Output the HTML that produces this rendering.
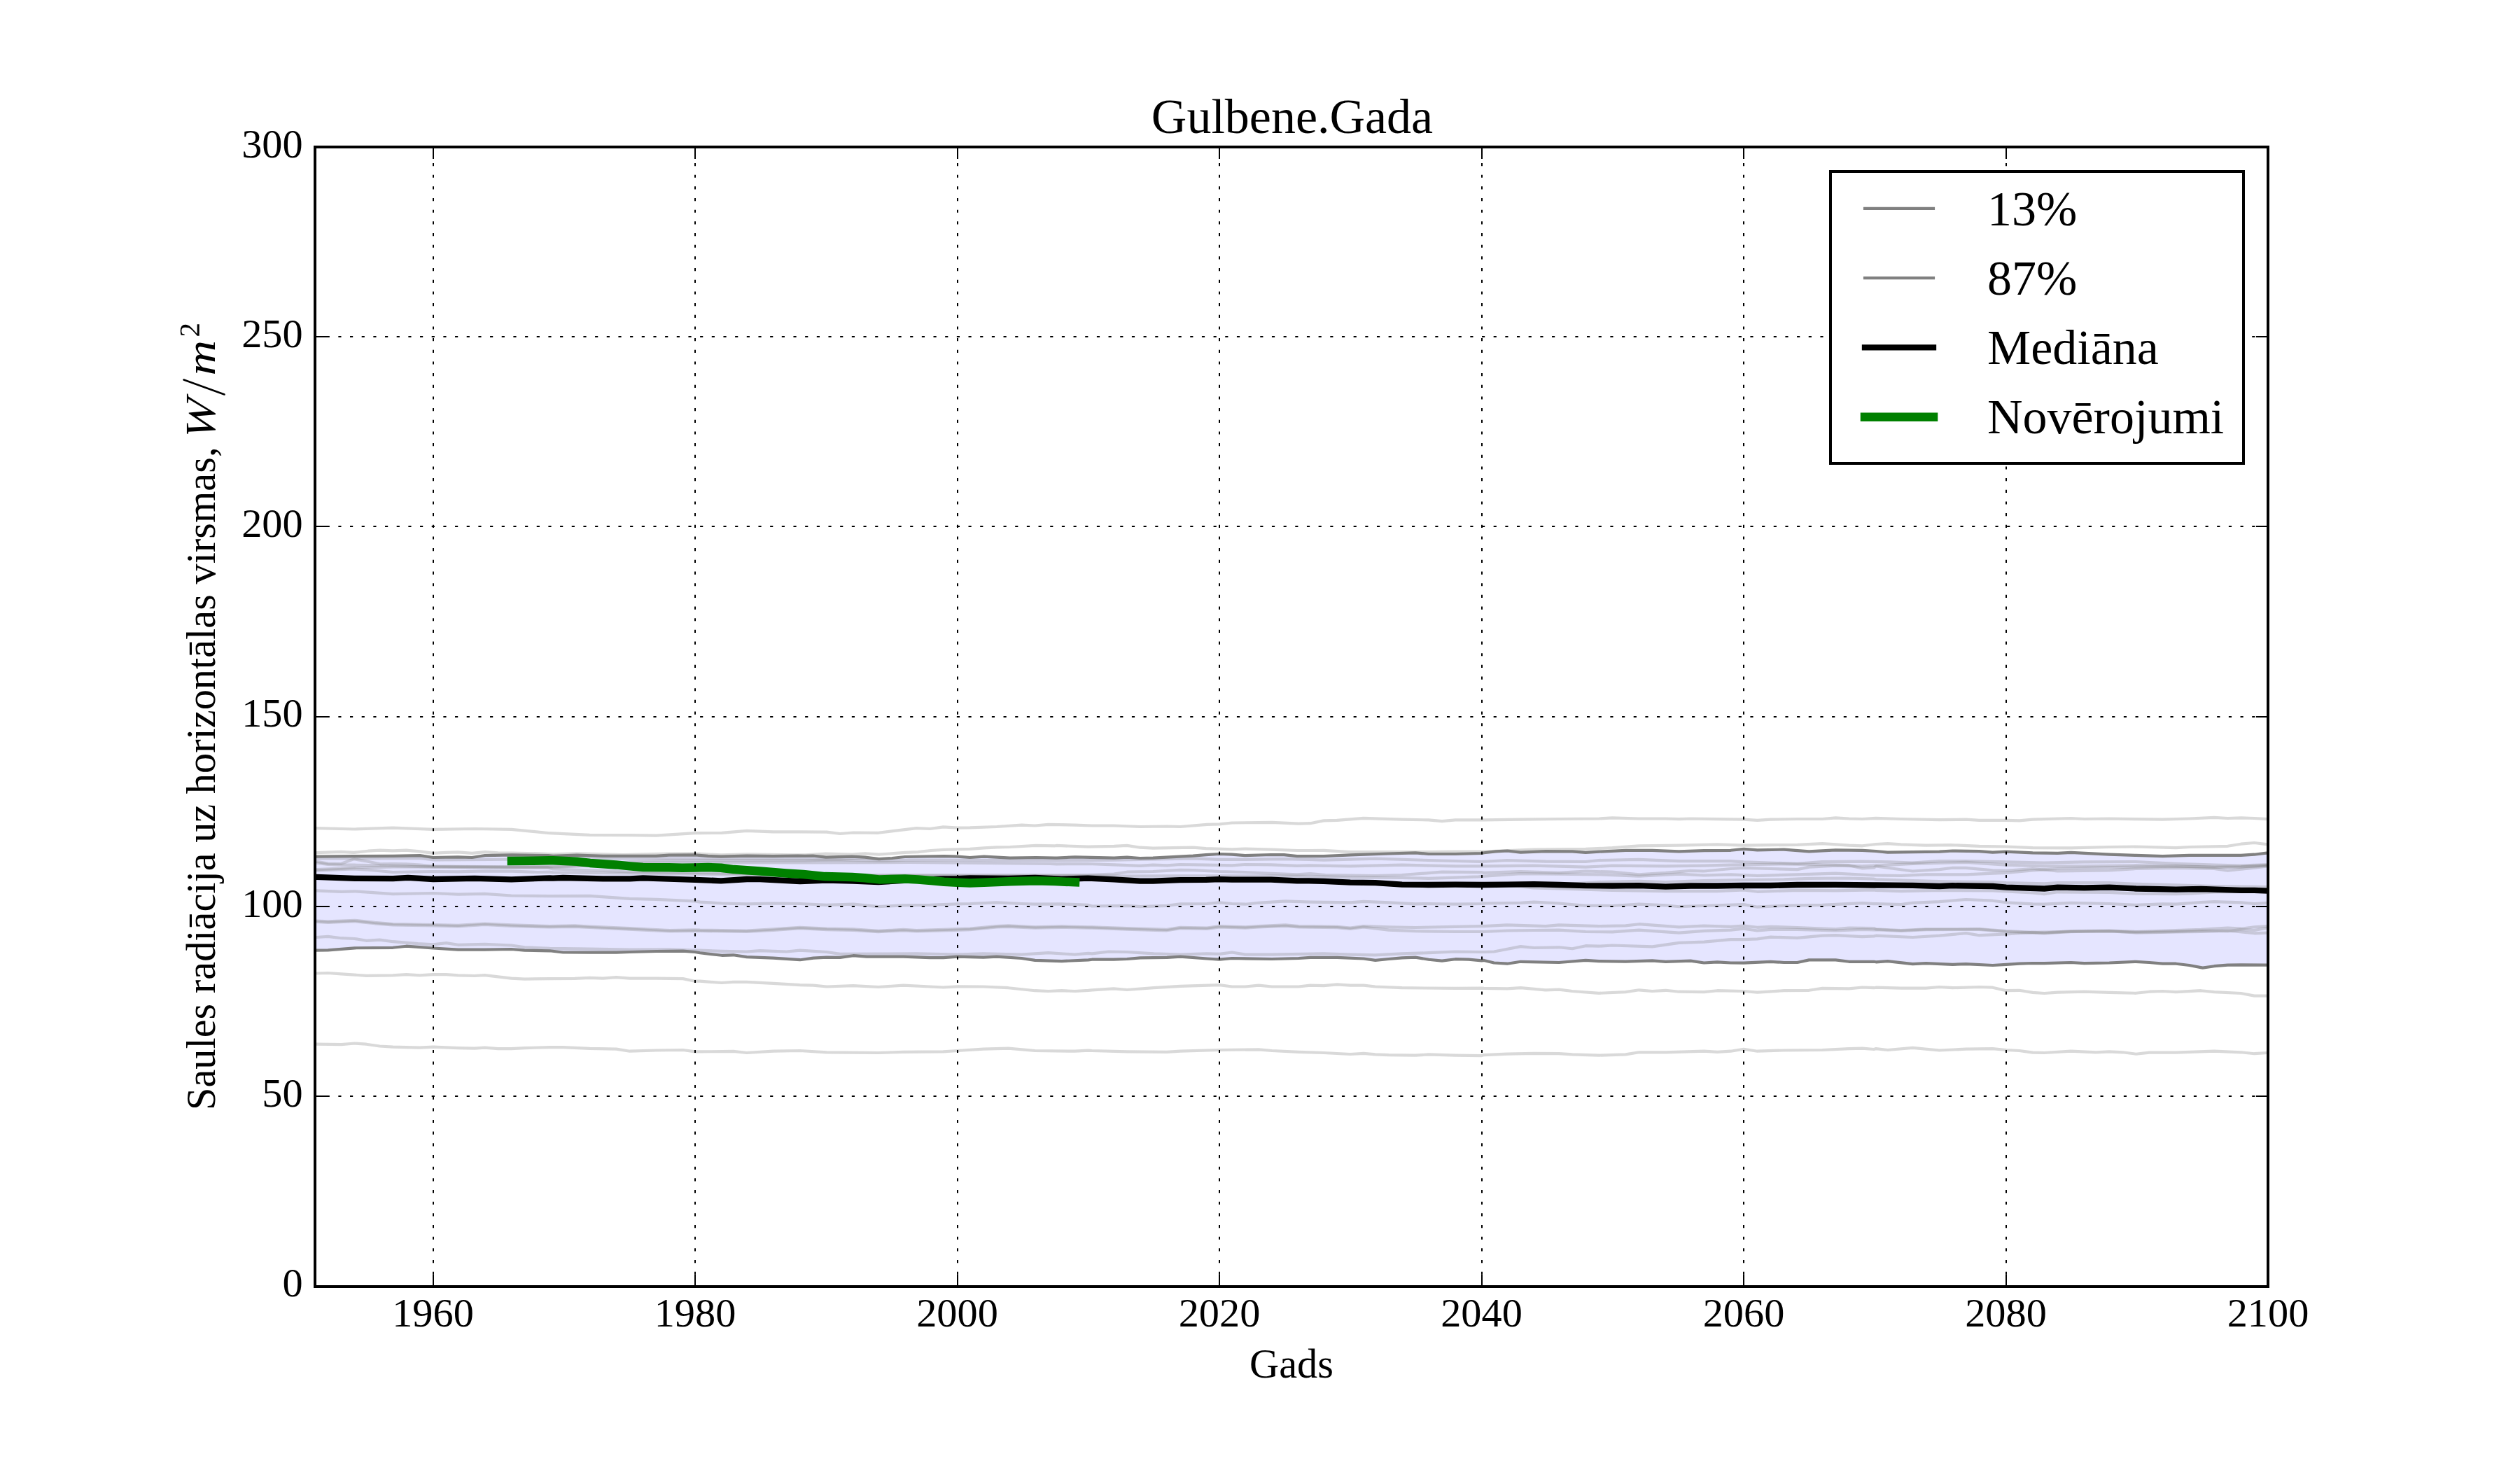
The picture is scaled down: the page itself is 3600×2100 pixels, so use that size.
<!DOCTYPE html>
<html><head><meta charset="utf-8"><title>Gulbene.Gada</title>
<style>
html,body{margin:0;padding:0;background:#fff;}
body{width:3600px;height:2100px;overflow:hidden;font-family:"Liberation Serif",serif;}
svg{display:block;position:absolute;left:0;top:0;}
text{font-family:"Liberation Serif",serif;fill:#000;}
.tk{font-size:58.33px;}
.lg{font-size:70px;}
.grid{stroke:#000;stroke-width:2;stroke-dasharray:4.17 12.5;fill:none;}
.tick{stroke:#000;stroke-width:2;fill:none;}
.lt{stroke:#808080;stroke-opacity:0.3;stroke-width:4.17;fill:none;stroke-linejoin:round;}
.dk{stroke:#808080;stroke-width:4.17;fill:none;stroke-linejoin:round;}
.md{stroke:#000;stroke-width:8.33;fill:none;stroke-linejoin:round;}
.ob{stroke:#008000;stroke-width:12.5;fill:none;stroke-linejoin:round;stroke-linecap:square;}
</style></head><body>
<svg width="3600" height="2100" viewBox="0 0 3600 2100">
<rect x="0" y="0" width="3600" height="2100" fill="#fff"/>
<defs><clipPath id="axclip"><rect x="450" y="210" width="2790" height="1627.5"/></clipPath></defs>
<g clip-path="url(#axclip)">
<polygon points="450.0,1223.6 452.1,1223.6 505.7,1223.1 561.4,1222.9 600.0,1222.1 618.9,1225.0 654.3,1224.3 674.3,1225.0 692.9,1222.1 731.4,1221.4 782.9,1222.1 790.0,1222.9 824.3,1221.7 861.4,1222.9 937.1,1222.9 955.7,1221.7 992.9,1221.4 1011.4,1222.9 1030.0,1223.6 1067.1,1222.6 1104.3,1223.1 1140.0,1222.6 1150.0,1222.9 1161.4,1222.6 1180.0,1224.6 1217.1,1223.6 1235.7,1224.6 1255.7,1227.1 1274.3,1226.0 1292.9,1224.0 1348.6,1223.1 1367.9,1223.6 1385.7,1225.0 1405.7,1223.6 1442.9,1225.7 1480.0,1225.0 1507.1,1225.7 1510.0,1225.7 1535.7,1224.3 1591.4,1225.7 1610.0,1224.6 1628.6,1226.0 1647.1,1225.7 1704.3,1222.6 1722.9,1221.1 1741.9,1220.0 1760.0,1220.7 1778.6,1222.1 1815.7,1221.0 1834.3,1221.1 1852.9,1223.1 1871.9,1223.1 1891.0,1223.1 1929.0,1221.4 1983.8,1219.5 2021.9,1218.3 2041.0,1220.0 2079.0,1220.0 2116.7,1219.0 2120.0,1218.3 2136.7,1216.4 2153.3,1215.5 2172.4,1217.6 2208.1,1216.2 2246.2,1216.4 2265.2,1217.9 2284.3,1216.7 2322.4,1214.8 2360.5,1214.8 2398.6,1216.4 2434.3,1215.2 2472.4,1214.8 2491.0,1212.9 2510.5,1214.3 2548.6,1213.6 2584.3,1216.4 2622.4,1214.3 2660.5,1214.8 2680.0,1216.0 2696.7,1217.6 2732.4,1217.1 2770.5,1216.7 2789.5,1215.5 2827.6,1216.2 2846.7,1217.6 2866.0,1216.7 2903.8,1218.3 2939.5,1218.8 2958.6,1217.9 3013.3,1220.7 3051.4,1221.9 3089.5,1223.1 3127.6,1221.9 3163.3,1221.9 3201.4,1221.9 3220.5,1220.7 3240.0,1218.3 3240.0,1378.6 3201.4,1378.3 3182.4,1378.6 3163.3,1380.2 3146.7,1382.6 3127.6,1379.0 3108.6,1376.7 3089.5,1376.7 3070.5,1375.0 3051.4,1373.8 3013.3,1375.5 2977.6,1376.2 2958.6,1375.0 2920.5,1376.2 2903.8,1376.0 2884.8,1376.7 2866.0,1377.9 2846.7,1379.0 2808.6,1377.1 2789.5,1377.9 2751.4,1376.2 2732.4,1377.1 2696.7,1373.1 2680.0,1374.3 2677.1,1373.8 2641.4,1373.8 2622.4,1371.4 2584.3,1371.4 2567.6,1375.0 2548.6,1375.0 2529.5,1373.8 2491.0,1375.7 2472.4,1375.5 2453.3,1374.3 2434.3,1375.5 2415.2,1372.6 2379.5,1373.8 2360.5,1372.4 2322.4,1373.6 2284.3,1373.1 2265.2,1371.9 2227.1,1375.0 2172.4,1373.8 2153.3,1376.7 2134.3,1375.5 2120.0,1371.9 2116.7,1372.4 2098.1,1370.7 2079.0,1370.2 2060.0,1372.6 2041.0,1370.7 2021.9,1367.6 2002.9,1368.3 1983.8,1370.0 1964.8,1371.9 1948.1,1369.5 1910.0,1367.9 1871.9,1367.9 1855.2,1369.0 1817.1,1370.0 1760.0,1369.0 1742.1,1370.7 1724.3,1369.5 1686.2,1366.7 1667.1,1367.9 1629.0,1368.3 1610.0,1370.0 1591.0,1370.7 1560.0,1370.7 1554.8,1371.4 1516.7,1373.1 1478.6,1371.9 1459.5,1369.0 1423.8,1366.7 1404.8,1367.6 1367.9,1366.7 1347.6,1368.1 1328.6,1368.1 1290.5,1366.7 1238.1,1366.7 1219.0,1365.2 1200.0,1367.9 1181.0,1367.6 1161.9,1368.6 1142.9,1371.2 1104.8,1368.6 1066.7,1367.1 1047.6,1364.3 1031.0,1364.8 1000.0,1361.2 992.9,1360.0 975.7,1358.6 937.6,1359.0 899.5,1360.0 880.5,1360.7 842.4,1360.7 804.3,1360.5 785.2,1358.3 749.5,1357.6 730.5,1356.0 692.4,1356.7 654.3,1356.7 619.0,1354.5 580.5,1351.7 561.4,1353.8 506.7,1354.3 468.6,1357.4 451.9,1357.6 450.0,1357.6" fill="#0000ff" fill-opacity="0.1" stroke="none"/>
<polyline class="lt" points="450.0,1183.1 451.9,1183.1 506.7,1184.5 561.4,1182.6 619.0,1184.8 678.1,1184.0 730.5,1184.8 785.2,1190.2 842.4,1192.9 899.5,1193.1 937.6,1193.6 992.9,1190.2 1000.0,1190.2 1031.0,1189.8 1066.7,1186.9 1104.8,1188.3 1142.9,1188.3 1181.0,1188.6 1200.0,1191.0 1219.0,1189.5 1254.8,1189.8 1273.8,1187.4 1309.5,1183.1 1328.6,1184.0 1347.6,1181.4 1367.9,1182.6 1385.7,1182.4 1423.8,1181.0 1459.5,1178.6 1478.6,1179.5 1497.6,1177.9 1535.7,1178.6 1560.0,1179.5 1591.0,1179.5 1629.0,1181.0 1667.1,1180.5 1686.2,1181.0 1724.3,1177.9 1742.1,1177.4 1760.0,1175.5 1817.1,1174.8 1855.2,1176.7 1871.9,1176.2 1891.0,1172.4 1910.0,1171.9 1948.1,1168.8 2002.9,1170.7 2041.0,1171.4 2060.0,1173.1 2079.0,1171.4 2116.7,1171.4 2120.0,1171.4 2172.4,1170.7 2227.1,1170.0 2284.3,1169.5 2303.3,1168.3 2341.4,1169.5 2379.5,1169.5 2398.6,1170.2 2415.2,1169.5 2453.3,1170.2 2491.0,1170.7 2510.5,1171.9 2529.5,1170.7 2567.6,1170.0 2603.3,1170.0 2622.4,1168.3 2641.4,1169.5 2660.5,1170.0 2680.0,1168.8 2715.7,1170.0 2770.5,1171.2 2808.6,1170.7 2827.6,1171.9 2866.0,1171.9 2884.8,1172.4 2903.8,1170.7 2958.6,1169.0 2977.6,1170.0 3013.3,1169.5 3051.4,1170.2 3089.5,1170.7 3127.6,1169.5 3163.3,1167.9 3182.4,1169.0 3201.4,1168.3 3220.5,1169.0 3240.0,1170.2"/>
<polyline class="lt" points="450.0,1218.1 452.1,1218.1 487.1,1216.9 505.7,1217.9 525.7,1215.7 542.9,1214.7 561.4,1215.4 580.0,1214.7 600.0,1216.4 618.9,1218.9 637.1,1217.9 654.3,1217.4 674.3,1218.9 692.9,1217.1 711.4,1218.3 731.4,1218.6 768.6,1219.3 790.0,1220.4 824.3,1219.3 890.0,1221.1 955.7,1219.7 992.9,1219.3 1030.0,1221.4 1067.1,1220.4 1132.9,1221.4 1150.0,1221.4 1180.0,1219.7 1217.1,1220.7 1235.7,1219.3 1255.7,1220.7 1292.9,1217.9 1311.4,1217.1 1330.0,1215.0 1348.6,1213.9 1367.9,1213.3 1385.7,1212.9 1405.7,1211.4 1424.3,1210.4 1442.9,1210.0 1480.0,1207.9 1507.1,1208.3 1510.0,1207.9 1554.3,1209.7 1591.4,1208.9 1610.0,1207.9 1628.6,1210.7 1647.1,1211.7 1704.3,1210.7 1722.9,1212.1 1760.0,1213.3 1778.6,1212.6 1815.7,1213.6 1852.9,1215.0 1870.0,1215.0 1891.0,1214.8 1929.0,1217.1 1964.8,1217.1 2002.9,1217.1 2041.0,1217.1 2079.0,1216.7 2116.7,1216.7 2120.0,1216.7 2191.4,1213.6 2265.2,1212.9 2303.3,1211.2 2341.4,1208.3 2398.6,1207.6 2453.3,1206.4 2491.0,1207.6 2529.5,1207.1 2567.6,1206.9 2603.3,1205.2 2641.4,1207.6 2660.5,1208.3 2680.0,1206.0 2696.7,1205.2 2715.7,1206.4 2751.4,1207.6 2787.1,1207.1 2827.6,1208.8 2866.0,1209.5 2903.8,1211.2 2958.6,1211.4 3013.3,1210.0 3051.4,1209.5 3108.6,1211.2 3127.6,1210.0 3182.4,1208.8 3201.4,1205.7 3220.5,1204.0 3240.0,1206.4"/>
<polyline class="lt" points="450.0,1226.5 452.0,1226.5 600.0,1226.0 620.0,1228.5 700.0,1228.0 800.0,1226.5 900.0,1226.3 1000.0,1226.5 1150.0,1227.5 1260.0,1230.0 1300.0,1228.5 1510.0,1229.3 1591.0,1228.6 1628.0,1227.9 1704.0,1226.4 1742.0,1227.9 1778.0,1227.9 1834.0,1227.1 1870.0,1227.9 1891.0,1228.6 1965.0,1226.7 2041.0,1229.0 2116.7,1231.0 2153.0,1229.0 2208.0,1230.7 2265.0,1231.0 2284.0,1229.0 2341.0,1227.9 2398.6,1230.2 2472.0,1230.2 2491.0,1231.4 2567.6,1233.8 2603.0,1231.0 2660.0,1230.7 2700.0,1231.4 2732.0,1232.6 2770.0,1230.2 2808.0,1230.2 2866.0,1231.4 2920.0,1232.6 2977.0,1231.4 3051.0,1231.0 3108.6,1233.8 3163.0,1235.7 3201.0,1236.7 3240.0,1235.0"/>
<polyline class="lt" points="450.0,1230.7 452.1,1230.7 468.6,1233.6 487.1,1234.0 505.7,1227.1 525.7,1230.7 542.9,1234.3 561.4,1234.0 580.0,1234.3 600.0,1235.7 618.9,1237.4 654.3,1237.9 692.9,1238.0 731.4,1238.3 782.9,1238.3 800.0,1238.0 830.0,1237.0 870.0,1234.5 920.0,1232.8 1000.0,1232.3 1100.0,1232.3 1150.0,1232.3 1300.0,1232.0 1400.0,1232.8 1500.0,1234.0 1510.0,1234.3 1554.3,1234.0 1591.4,1235.4 1628.6,1236.9 1647.1,1235.7 1667.1,1236.4 1685.7,1235.0 1722.9,1235.7 1760.0,1236.4 1778.6,1235.0 1815.7,1235.4 1852.9,1236.9 1870.0,1236.4 1929.0,1237.4 2002.9,1235.7 2079.0,1237.4 2116.7,1237.4 2120.0,1237.4 2191.4,1236.7 2265.2,1238.6 2303.3,1236.7 2379.5,1237.4 2434.3,1236.7 2472.4,1235.7 2510.5,1235.0 2548.6,1234.3 2603.3,1235.2 2641.4,1236.2 2660.5,1240.5 2677.1,1239.5 2680.0,1237.4 2696.7,1239.8 2732.4,1244.5 2770.5,1242.1 2789.5,1239.8 2808.6,1239.8 2846.7,1243.3 2866.0,1243.8 2903.8,1241.0 2939.5,1244.5 3013.3,1243.3 3051.4,1241.0 3108.6,1239.8 3163.3,1241.0 3182.4,1243.8 3220.5,1239.8 3240.0,1237.4"/>
<polyline class="lt" points="450.0,1232.6 452.1,1232.6 468.6,1235.0 487.1,1235.7 505.7,1235.7 542.9,1236.4 582.9,1237.4 618.9,1238.6 654.3,1238.9 731.4,1239.3 782.9,1239.4 790.0,1241.5 850.0,1243.5 900.0,1245.5 1000.0,1247.0 1100.0,1248.5 1200.0,1250.0 1300.0,1251.0 1400.0,1251.5 1500.0,1251.0 1552.9,1250.0 1591.4,1248.6 1610.0,1245.7 1647.1,1245.0 1685.7,1242.9 1704.3,1243.1 1741.9,1245.0 1778.6,1246.0 1815.7,1247.9 1852.9,1249.3 1871.9,1248.1 1893.3,1250.0 1964.8,1251.0 2002.9,1250.0 2060.0,1245.7 2116.7,1246.2 2120.0,1246.9 2172.4,1245.2 2227.1,1246.9 2265.2,1244.5 2303.3,1245.7 2341.4,1249.3 2379.5,1246.9 2415.2,1243.8 2434.3,1244.5 2472.4,1241.0 2491.0,1239.8 2529.5,1241.0 2567.6,1242.1 2584.3,1238.6 2622.4,1236.7 2660.5,1237.4 2677.1,1236.7 2680.0,1236.7 2732.4,1233.8 2808.6,1231.9 2866.0,1235.7 2920.5,1237.4 2977.6,1237.4 3051.4,1236.2 3108.6,1237.4 3163.3,1239.0 3201.4,1238.6 3240.0,1236.2"/>
<polyline class="lt" points="452.1,1242.1 487.1,1240.7 505.7,1239.3 542.9,1238.9 561.4,1238.3 600.0,1238.3 618.9,1238.1 654.3,1238.3 731.4,1238.6 782.9,1238.6 800.0,1238.5 850.0,1236.0 900.0,1231.0 950.0,1229.5 1000.0,1229.3 1150.0,1229.3 1200.0,1228.0 1235.0,1226.0 1255.0,1227.1"/>
<polyline class="lt" points="450.0,1243.6 452.1,1243.6 487.1,1242.1 505.7,1241.4 525.7,1242.6 542.9,1244.3 561.4,1246.0 600.0,1245.4 618.9,1245.0 654.3,1245.4 692.9,1244.3 731.4,1244.6 768.6,1246.0 785.7,1245.7 790.0,1246.4 900.0,1247.5 1000.0,1249.0 1100.0,1250.5 1200.0,1251.0 1311.0,1250.0 1478.0,1250.0 1600.0,1251.5 1667.0,1251.4 1796.0,1251.4 1855.2,1251.7 1929.0,1253.3 2002.9,1254.0 2041.0,1254.8 2079.0,1253.6 2112.4,1252.4 2120.0,1251.7 2172.4,1248.1 2227.1,1248.6 2284.3,1249.3 2341.4,1251.7 2398.6,1248.6 2434.3,1250.5 2472.4,1249.3 2510.5,1251.0 2567.6,1249.3 2622.4,1247.6 2677.1,1250.5 2680.0,1250.5 2715.7,1251.0 2751.4,1249.3 2808.6,1249.3 2846.7,1247.6 2866.0,1246.9 2903.8,1243.3 2939.5,1241.0 2977.6,1239.8 3051.4,1238.6 3108.6,1237.4 3163.3,1238.6 3201.4,1238.1 3240.0,1236.7"/>
<polyline class="lt" points="2230.0,1263.5 2284.3,1260.0 2341.4,1258.8 2379.5,1260.0 2434.3,1258.1 2491.0,1257.1 2548.6,1256.4 2584.3,1254.8 2641.4,1254.5 2677.1,1255.7 2680.0,1256.4 2732.4,1258.1 2789.5,1259.5 2846.7,1260.0 2866.0,1261.2 2920.5,1262.4 2939.5,1261.2 3013.3,1261.2 3051.4,1262.9 3108.6,1264.3 3163.3,1266.0 3240.0,1267.1"/>
<polyline class="lt" points="2140.0,1264.0 2167.6,1266.0 2191.4,1268.3 2265.2,1270.7 2303.3,1271.9 2379.5,1273.1 2453.3,1273.1 2491.0,1271.4 2510.5,1273.8 2567.6,1271.9 2622.4,1272.4 2677.1,1271.4 2680.0,1271.9 2715.7,1273.1 2770.5,1271.9 2846.7,1272.4 2903.8,1275.5 2920.5,1277.1 2939.5,1274.3 3013.3,1274.8 3051.4,1276.7 3108.6,1277.1 3127.6,1276.7 3163.3,1274.3 3240.0,1273.3"/>
<polyline class="lt" points="450.0,1272.4 451.9,1272.4 487.6,1273.8 506.7,1273.3 561.4,1277.1 619.0,1276.0 654.3,1277.6 692.4,1276.9 730.5,1279.5 785.2,1280.2 842.4,1279.8 899.5,1283.8 937.6,1284.8 992.9,1287.4 1000.0,1288.6 1031.0,1290.5 1066.7,1291.4 1104.8,1290.5 1142.9,1291.0 1181.0,1292.9 1219.0,1291.7 1254.8,1295.2 1290.5,1293.3 1328.6,1292.9 1367.9,1291.4 1385.7,1291.0 1423.8,1289.3 1459.5,1291.0 1478.6,1291.7 1516.7,1291.4 1554.8,1292.9 1560.0,1294.5 1610.0,1293.8 1629.0,1295.2 1667.1,1293.8 1686.2,1291.4 1724.3,1291.0 1742.1,1289.3 1760.0,1291.0 1779.0,1291.7 1798.1,1289.8 1836.2,1287.4 1871.9,1288.6 1929.0,1289.3 1948.1,1287.9 1983.8,1289.3 2021.9,1291.4 2041.0,1291.0 2079.0,1291.7 2116.7,1291.0 2120.0,1290.5 2172.4,1289.8 2191.4,1288.6 2227.1,1290.5 2265.2,1293.8 2303.3,1294.0 2341.4,1291.7 2379.5,1293.3 2398.6,1295.2 2415.2,1294.5 2453.3,1293.3 2491.0,1292.1 2510.5,1295.7 2548.6,1293.8 2603.3,1292.9 2660.5,1290.2 2677.1,1291.2 2680.0,1291.0 2715.7,1292.1 2732.4,1289.8 2770.5,1288.1 2808.6,1285.0 2846.7,1286.7 2866.0,1289.3 2903.8,1291.4 2920.5,1291.7 2958.6,1289.8 3013.3,1291.0 3051.4,1292.9 3089.5,1291.4 3108.6,1291.7 3144.3,1289.0 3163.3,1288.1 3201.4,1289.3 3220.5,1291.0 3240.0,1289.8"/>
<polyline class="lt" points="450.0,1315.5 451.9,1315.5 468.6,1316.4 506.7,1314.8 535.2,1317.9 561.4,1320.0 619.0,1321.0 654.3,1321.9 692.4,1319.5 730.5,1321.4 785.2,1323.1 821.0,1322.4 842.4,1323.6 899.5,1326.2 956.7,1329.0 992.9,1328.3 1000.0,1328.6 1031.0,1329.0 1066.7,1329.5 1104.8,1327.4 1142.9,1324.8 1181.0,1326.7 1219.0,1327.4 1254.8,1329.8 1290.5,1327.9 1309.5,1329.0 1347.6,1327.9 1385.7,1326.7 1423.8,1323.1 1440.5,1322.4 1478.6,1324.3 1516.7,1323.3 1554.8,1324.3 1560.0,1324.3 1610.0,1326.2 1667.1,1327.9 1686.2,1324.8 1724.3,1325.5 1742.1,1323.1 1779.0,1324.3 1798.1,1323.1 1836.2,1321.4 1855.2,1323.1 1910.0,1323.8 1929.0,1325.5 1948.1,1323.1 1983.8,1324.3 2021.9,1325.0 2079.0,1323.8 2116.7,1323.1 2120.0,1323.1 2153.3,1321.4 2208.1,1323.1 2227.1,1321.4 2284.3,1323.1 2322.4,1322.4 2341.4,1320.2 2398.6,1324.3 2434.3,1322.6 2472.4,1323.8 2491.0,1322.6 2510.5,1324.8 2529.5,1323.8 2567.6,1325.0 2622.4,1327.4 2641.4,1325.5 2677.1,1326.0 2680.0,1327.4 2715.7,1329.0 2751.4,1327.4 2827.6,1327.1 2866.0,1330.2 2903.8,1331.9 2920.5,1332.6 2958.6,1330.2 3013.3,1329.5 3051.4,1331.0 3108.6,1329.0 3144.3,1327.9 3182.4,1325.5 3201.4,1326.7 3220.5,1324.3 3240.0,1323.1"/>
<polyline class="lt" points="450.0,1316.9 451.9,1316.9 468.6,1317.9 506.7,1316.2 535.2,1319.3 561.4,1321.4 619.0,1322.4 654.3,1323.3 692.4,1321.0 730.5,1322.9 785.2,1324.5 821.0,1323.8 842.4,1325.0 899.5,1327.6 956.7,1330.5 992.9,1329.8 1000.0,1330.0 1031.0,1330.5 1066.7,1331.0 1104.8,1328.8 1142.9,1326.2 1181.0,1328.1 1219.0,1328.8 1254.8,1331.2 1290.5,1329.3 1309.5,1330.5 1347.6,1329.3 1385.7,1328.1 1423.8,1324.5 1440.5,1323.8 1478.6,1325.7 1516.7,1324.8 1554.8,1325.7 1560.0,1325.7 1610.0,1327.6 1667.1,1329.3 1686.2,1326.2 1724.3,1326.9 1742.1,1324.5 1779.0,1325.7 1798.1,1324.5 1836.2,1322.9 1855.2,1324.5 1910.0,1325.2 1929.0,1326.9 1948.1,1324.5 1983.8,1328.6 2021.9,1330.2 2079.0,1331.0 2116.7,1331.0 2120.0,1331.0 2153.3,1329.5 2191.4,1329.0 2227.1,1328.6 2265.2,1331.0 2303.3,1331.4 2341.4,1328.6 2398.6,1332.6 2434.3,1329.8 2472.4,1328.6 2491.0,1326.7 2510.5,1329.5 2529.5,1327.9 2567.6,1327.9 2622.4,1329.5 2660.5,1327.9 2677.1,1328.3 2680.0,1328.1 2715.7,1329.8 2751.4,1328.1 2827.6,1327.9 2866.0,1331.0 2903.8,1332.6 2920.5,1333.3 2958.6,1331.0 3013.3,1330.5 3051.4,1331.7 3108.6,1331.0 3144.3,1329.5 3182.4,1330.2 3201.4,1327.9 3220.5,1329.0 3240.0,1325.5"/>
<polyline class="lt" points="450.0,1339.0 451.9,1339.0 468.6,1337.9 487.6,1340.2 506.7,1341.0 523.3,1343.8 542.4,1342.6 561.4,1345.2 597.1,1348.1 619.0,1349.3 637.6,1347.1 654.3,1349.8 692.4,1348.8 730.5,1350.5 749.5,1353.3 785.2,1354.8 842.4,1355.7 899.5,1356.7 956.7,1356.4 992.9,1357.6 1000.0,1357.6 1031.0,1358.8 1066.7,1359.5 1085.7,1358.1 1123.8,1359.5 1142.9,1357.6 1181.0,1360.0 1200.0,1362.9 1309.5,1362.4 1367.9,1363.6 1404.8,1362.4 1459.5,1363.6 1497.6,1361.2 1535.7,1363.6 1554.8,1361.9 1560.0,1362.4 1583.8,1359.5 1610.0,1360.0 1648.1,1362.4 1686.2,1363.6 1724.3,1362.4 1742.1,1362.9 1760.0,1360.5 1779.0,1363.6 1817.1,1363.6 1891.0,1362.4 1929.0,1363.6 1964.8,1364.3 2002.9,1362.4 2041.0,1361.2 2079.0,1359.5 2116.7,1360.0 2120.0,1360.0 2134.3,1359.5 2172.4,1352.1 2191.4,1354.0 2227.1,1353.3 2246.2,1355.2 2265.2,1351.2 2284.3,1351.7 2303.3,1350.5 2360.5,1352.4 2398.6,1346.9 2434.3,1345.7 2472.4,1342.1 2491.0,1342.1 2510.5,1341.4 2529.5,1338.6 2567.6,1339.8 2603.3,1336.7 2622.4,1336.2 2660.5,1338.1 2677.1,1337.4 2680.0,1336.7 2732.4,1339.0 2770.5,1336.7 2808.6,1333.1 2827.6,1336.2 2866.0,1334.5 2903.8,1331.9 3013.3,1330.2 3051.4,1332.6 3108.6,1331.4 3144.3,1331.0 3182.4,1329.5 3220.5,1333.3 3240.0,1332.6"/>
<polyline class="lt" points="450.0,1390.5 451.9,1390.5 468.6,1390.0 487.6,1391.4 523.3,1393.8 561.4,1393.3 580.5,1392.1 599.5,1393.3 619.0,1392.1 637.6,1392.1 654.3,1393.3 678.1,1394.0 692.4,1393.1 730.5,1397.6 749.5,1398.6 785.2,1398.1 821.0,1397.9 842.4,1396.9 861.4,1397.6 880.5,1396.2 899.5,1397.6 937.6,1397.6 975.7,1398.1 992.9,1401.7 1000.0,1401.7 1031.0,1404.0 1047.6,1402.9 1066.7,1402.9 1104.8,1404.8 1142.9,1407.1 1161.9,1407.6 1181.0,1409.5 1219.0,1408.1 1254.8,1410.0 1290.5,1407.6 1328.6,1409.5 1347.6,1410.5 1367.9,1409.3 1404.8,1409.5 1440.5,1411.2 1478.6,1415.2 1497.6,1416.0 1516.7,1415.2 1535.7,1416.0 1554.8,1414.8 1560.0,1414.3 1591.0,1412.4 1610.0,1414.0 1648.1,1411.2 1686.2,1408.8 1742.1,1407.1 1760.0,1409.5 1779.0,1409.5 1798.1,1407.6 1817.1,1409.5 1855.2,1409.5 1871.9,1407.6 1891.0,1408.1 1910.0,1406.4 1929.0,1407.6 1948.1,1407.6 1964.8,1409.5 2002.9,1411.2 2079.0,1411.9 2116.7,1411.7 2120.0,1411.9 2153.3,1412.4 2172.4,1411.2 2208.1,1414.3 2227.1,1413.6 2246.2,1416.0 2284.3,1418.8 2322.4,1417.1 2341.4,1414.3 2360.5,1416.0 2379.5,1414.8 2398.6,1416.7 2434.3,1417.1 2453.3,1415.2 2491.0,1416.0 2510.5,1417.6 2548.6,1415.2 2584.3,1414.8 2603.3,1411.9 2641.4,1412.4 2660.5,1410.5 2677.1,1411.2 2680.0,1410.7 2715.7,1411.7 2751.4,1411.7 2770.5,1410.0 2789.5,1411.2 2827.6,1410.0 2846.7,1410.7 2866.0,1415.2 2884.8,1414.8 2903.8,1417.9 2920.5,1419.0 2939.5,1417.6 2977.6,1416.7 3013.3,1417.9 3051.4,1418.8 3070.5,1416.7 3089.5,1416.0 3108.6,1417.1 3144.3,1415.2 3163.3,1417.1 3201.4,1419.0 3220.5,1422.6 3240.0,1422.6"/>
<polyline class="lt" points="450.0,1491.7 451.9,1491.7 487.6,1492.1 506.7,1490.5 523.3,1491.7 542.4,1494.5 561.4,1495.7 599.5,1496.7 619.0,1495.7 654.3,1497.1 678.1,1497.6 692.4,1496.7 711.4,1498.1 730.5,1498.1 749.5,1497.1 785.2,1496.2 804.3,1496.2 842.4,1497.9 880.5,1498.6 899.5,1501.7 937.6,1500.5 975.7,1500.0 992.9,1502.4 1000.0,1502.4 1047.6,1501.9 1066.7,1504.0 1104.8,1501.7 1142.9,1501.0 1181.0,1503.3 1254.8,1504.0 1290.5,1502.9 1347.6,1502.4 1367.9,1501.0 1404.8,1498.6 1440.5,1497.6 1478.6,1501.0 1535.7,1501.7 1554.8,1500.7 1560.0,1501.0 1610.0,1502.4 1667.1,1502.9 1686.2,1501.7 1742.1,1500.0 1798.1,1499.3 1817.1,1501.0 1855.2,1502.9 1891.0,1504.0 1929.0,1506.0 1948.1,1504.8 1964.8,1506.4 1983.8,1507.1 2021.9,1507.6 2041.0,1506.4 2079.0,1507.6 2116.7,1508.1 2120.0,1507.1 2153.3,1505.7 2191.4,1504.8 2227.1,1505.2 2246.2,1506.4 2284.3,1507.6 2322.4,1506.4 2341.4,1503.3 2379.5,1503.3 2434.3,1501.7 2453.3,1502.9 2472.4,1501.7 2491.0,1498.8 2510.5,1501.7 2548.6,1500.5 2603.3,1500.0 2641.4,1498.1 2660.5,1497.6 2677.1,1499.0 2680.0,1498.1 2696.7,1500.0 2732.4,1496.9 2770.5,1500.5 2808.6,1498.6 2846.7,1498.1 2866.0,1500.0 2884.8,1501.0 2903.8,1503.6 2920.5,1504.0 2958.6,1501.7 2994.3,1503.3 3013.3,1502.4 3032.4,1503.3 3051.4,1505.7 3070.5,1503.6 3108.6,1503.6 3163.3,1501.7 3201.4,1503.3 3220.5,1505.2 3240.0,1504.0"/>
<polyline class="dk" points="450.0,1357.6 451.9,1357.6 468.6,1357.4 506.7,1354.3 561.4,1353.8 580.5,1351.7 619.0,1354.5 654.3,1356.7 692.4,1356.7 730.5,1356.0 749.5,1357.6 785.2,1358.3 804.3,1360.5 842.4,1360.7 880.5,1360.7 899.5,1360.0 937.6,1359.0 975.7,1358.6 992.9,1360.0 1000.0,1361.2 1031.0,1364.8 1047.6,1364.3 1066.7,1367.1 1104.8,1368.6 1142.9,1371.2 1161.9,1368.6 1181.0,1367.6 1200.0,1367.9 1219.0,1365.2 1238.1,1366.7 1290.5,1366.7 1328.6,1368.1 1347.6,1368.1 1367.9,1366.7 1404.8,1367.6 1423.8,1366.7 1459.5,1369.0 1478.6,1371.9 1516.7,1373.1 1554.8,1371.4 1560.0,1370.7 1591.0,1370.7 1610.0,1370.0 1629.0,1368.3 1667.1,1367.9 1686.2,1366.7 1724.3,1369.5 1742.1,1370.7 1760.0,1369.0 1817.1,1370.0 1855.2,1369.0 1871.9,1367.9 1910.0,1367.9 1948.1,1369.5 1964.8,1371.9 1983.8,1370.0 2002.9,1368.3 2021.9,1367.6 2041.0,1370.7 2060.0,1372.6 2079.0,1370.2 2098.1,1370.7 2116.7,1372.4 2120.0,1371.9 2134.3,1375.5 2153.3,1376.7 2172.4,1373.8 2227.1,1375.0 2265.2,1371.9 2284.3,1373.1 2322.4,1373.6 2360.5,1372.4 2379.5,1373.8 2415.2,1372.6 2434.3,1375.5 2453.3,1374.3 2472.4,1375.5 2491.0,1375.7 2529.5,1373.8 2548.6,1375.0 2567.6,1375.0 2584.3,1371.4 2622.4,1371.4 2641.4,1373.8 2677.1,1373.8 2680.0,1374.3 2696.7,1373.1 2732.4,1377.1 2751.4,1376.2 2789.5,1377.9 2808.6,1377.1 2846.7,1379.0 2866.0,1377.9 2884.8,1376.7 2903.8,1376.0 2920.5,1376.2 2958.6,1375.0 2977.6,1376.2 3013.3,1375.5 3051.4,1373.8 3070.5,1375.0 3089.5,1376.7 3108.6,1376.7 3127.6,1379.0 3146.7,1382.6 3163.3,1380.2 3182.4,1378.6 3201.4,1378.3 3240.0,1378.6"/>
<polyline class="dk" points="450.0,1223.6 452.1,1223.6 505.7,1223.1 561.4,1222.9 600.0,1222.1 618.9,1225.0 654.3,1224.3 674.3,1225.0 692.9,1222.1 731.4,1221.4 782.9,1222.1 790.0,1222.9 824.3,1221.7 861.4,1222.9 937.1,1222.9 955.7,1221.7 992.9,1221.4 1011.4,1222.9 1030.0,1223.6 1067.1,1222.6 1104.3,1223.1 1140.0,1222.6 1150.0,1222.9 1161.4,1222.6 1180.0,1224.6 1217.1,1223.6 1235.7,1224.6 1255.7,1227.1 1274.3,1226.0 1292.9,1224.0 1348.6,1223.1 1367.9,1223.6 1385.7,1225.0 1405.7,1223.6 1442.9,1225.7 1480.0,1225.0 1507.1,1225.7 1510.0,1225.7 1535.7,1224.3 1591.4,1225.7 1610.0,1224.6 1628.6,1226.0 1647.1,1225.7 1704.3,1222.6 1722.9,1221.1 1741.9,1220.0 1760.0,1220.7 1778.6,1222.1 1815.7,1221.0 1834.3,1221.1 1852.9,1223.1 1871.9,1223.1 1891.0,1223.1 1929.0,1221.4 1983.8,1219.5 2021.9,1218.3 2041.0,1220.0 2079.0,1220.0 2116.7,1219.0 2120.0,1218.3 2136.7,1216.4 2153.3,1215.5 2172.4,1217.6 2208.1,1216.2 2246.2,1216.4 2265.2,1217.9 2284.3,1216.7 2322.4,1214.8 2360.5,1214.8 2398.6,1216.4 2434.3,1215.2 2472.4,1214.8 2491.0,1212.9 2510.5,1214.3 2548.6,1213.6 2584.3,1216.4 2622.4,1214.3 2660.5,1214.8 2680.0,1216.0 2696.7,1217.6 2732.4,1217.1 2770.5,1216.7 2789.5,1215.5 2827.6,1216.2 2846.7,1217.6 2866.0,1216.7 2903.8,1218.3 2939.5,1218.8 2958.6,1217.9 3013.3,1220.7 3051.4,1221.9 3089.5,1223.1 3127.6,1221.9 3163.3,1221.9 3201.4,1221.9 3220.5,1220.7 3240.0,1218.3"/>
<polyline class="md" points="450.0,1252.9 451.9,1252.9 506.7,1254.8 561.4,1255.2 582.9,1253.8 619.0,1256.0 678.1,1254.8 730.5,1256.4 785.2,1254.3 790.0,1254.6 804.3,1254.0 861.4,1255.4 900.0,1255.4 918.6,1254.3 955.7,1255.7 992.9,1256.9 1030.0,1258.3 1067.1,1256.0 1085.7,1256.2 1142.9,1259.0 1181.0,1257.6 1219.0,1258.6 1254.8,1260.0 1309.5,1256.9 1347.6,1255.5 1367.9,1255.2 1385.7,1254.5 1440.5,1254.8 1478.6,1254.0 1516.7,1255.7 1542.9,1255.0 1554.3,1254.7 1591.4,1256.4 1628.6,1258.6 1647.1,1258.6 1685.7,1257.1 1722.9,1256.9 1741.9,1256.1 1760.0,1256.7 1815.7,1256.7 1852.9,1258.3 1870.0,1258.3 1891.0,1258.8 1929.0,1260.7 1964.8,1261.2 2002.9,1263.6 2041.0,1264.0 2079.0,1263.6 2116.7,1264.0 2120.0,1264.0 2153.3,1263.6 2191.4,1263.1 2227.1,1264.0 2265.2,1265.2 2303.3,1265.5 2341.4,1265.2 2379.5,1266.7 2415.2,1265.5 2453.3,1265.5 2491.0,1264.8 2529.5,1265.0 2567.6,1264.0 2622.4,1263.8 2677.1,1264.5 2680.0,1264.3 2732.4,1264.8 2770.5,1266.0 2789.5,1265.2 2846.7,1266.0 2866.0,1267.6 2920.5,1269.5 2939.5,1267.6 2977.6,1268.3 3013.3,1267.6 3051.4,1269.5 3108.6,1270.7 3144.3,1270.0 3201.4,1271.9 3220.5,1271.9 3240.0,1272.6"/>
<polyline class="ob" points="730.9,1230.0 760.0,1229.8 785.0,1229.3 790.0,1229.3 824.3,1230.7 842.9,1232.9 880.0,1235.4 900.0,1237.4 918.6,1238.9 955.7,1239.3 974.3,1239.7 992.9,1239.4 1011.4,1239.0 1030.0,1239.7 1048.6,1242.1 1085.7,1244.6 1122.9,1247.4 1147.1,1249.0 1150.0,1249.3 1178.6,1252.1 1217.1,1253.1 1235.7,1254.3 1255.7,1256.4 1292.9,1255.4 1311.4,1256.4 1330.0,1257.9 1348.6,1259.7 1367.9,1260.7 1385.7,1261.4 1405.7,1260.7 1442.9,1259.3 1480.0,1258.3 1507.1,1259.1 1536.0,1260.3"/>
</g>
<line class="grid" x1="619.00" y1="1837.50" x2="619.00" y2="210.00"/>
<line class="grid" x1="993.00" y1="1837.50" x2="993.00" y2="210.00"/>
<line class="grid" x1="1368.00" y1="1837.50" x2="1368.00" y2="210.00"/>
<line class="grid" x1="1742.00" y1="1837.50" x2="1742.00" y2="210.00"/>
<line class="grid" x1="2117.00" y1="1837.50" x2="2117.00" y2="210.00"/>
<line class="grid" x1="2491.00" y1="1837.50" x2="2491.00" y2="210.00"/>
<line class="grid" x1="2866.00" y1="1837.50" x2="2866.00" y2="210.00"/>
<line class="grid" x1="450.00" y1="1566.00" x2="3240.00" y2="1566.00"/>
<line class="grid" x1="450.00" y1="1295.00" x2="3240.00" y2="1295.00"/>
<line class="grid" x1="450.00" y1="1024.00" x2="3240.00" y2="1024.00"/>
<line class="grid" x1="450.00" y1="752.00" x2="3240.00" y2="752.00"/>
<line class="grid" x1="450.00" y1="481.00" x2="3240.00" y2="481.00"/>
<line class="tick" x1="619.00" y1="1837.50" x2="619.00" y2="1820.43"/>
<line class="tick" x1="619.00" y1="210.00" x2="619.00" y2="227.07"/>
<line class="tick" x1="993.00" y1="1837.50" x2="993.00" y2="1820.43"/>
<line class="tick" x1="993.00" y1="210.00" x2="993.00" y2="227.07"/>
<line class="tick" x1="1368.00" y1="1837.50" x2="1368.00" y2="1820.43"/>
<line class="tick" x1="1368.00" y1="210.00" x2="1368.00" y2="227.07"/>
<line class="tick" x1="1742.00" y1="1837.50" x2="1742.00" y2="1820.43"/>
<line class="tick" x1="1742.00" y1="210.00" x2="1742.00" y2="227.07"/>
<line class="tick" x1="2117.00" y1="1837.50" x2="2117.00" y2="1820.43"/>
<line class="tick" x1="2117.00" y1="210.00" x2="2117.00" y2="227.07"/>
<line class="tick" x1="2491.00" y1="1837.50" x2="2491.00" y2="1820.43"/>
<line class="tick" x1="2491.00" y1="210.00" x2="2491.00" y2="227.07"/>
<line class="tick" x1="2866.00" y1="1837.50" x2="2866.00" y2="1820.43"/>
<line class="tick" x1="2866.00" y1="210.00" x2="2866.00" y2="227.07"/>
<line class="tick" x1="450.00" y1="1566.00" x2="467.07" y2="1566.00"/>
<line class="tick" x1="3240.00" y1="1566.00" x2="3222.93" y2="1566.00"/>
<line class="tick" x1="450.00" y1="1295.00" x2="467.07" y2="1295.00"/>
<line class="tick" x1="3240.00" y1="1295.00" x2="3222.93" y2="1295.00"/>
<line class="tick" x1="450.00" y1="1024.00" x2="467.07" y2="1024.00"/>
<line class="tick" x1="3240.00" y1="1024.00" x2="3222.93" y2="1024.00"/>
<line class="tick" x1="450.00" y1="752.00" x2="467.07" y2="752.00"/>
<line class="tick" x1="3240.00" y1="752.00" x2="3222.93" y2="752.00"/>
<line class="tick" x1="450.00" y1="481.00" x2="467.07" y2="481.00"/>
<line class="tick" x1="3240.00" y1="481.00" x2="3222.93" y2="481.00"/>
<rect x="450" y="210" width="2790" height="1628" fill="none" stroke="#000" stroke-width="4"/>
<text class="tk" transform="translate(618.52,1894.70) scale(1,0.978)" x="0" y="0" text-anchor="middle">1960</text>
<text class="tk" transform="translate(993.02,1894.70) scale(1,0.978)" x="0" y="0" text-anchor="middle">1980</text>
<text class="tk" transform="translate(1367.52,1894.70) scale(1,0.978)" x="0" y="0" text-anchor="middle">2000</text>
<text class="tk" transform="translate(1742.01,1894.70) scale(1,0.978)" x="0" y="0" text-anchor="middle">2020</text>
<text class="tk" transform="translate(2116.51,1894.70) scale(1,0.978)" x="0" y="0" text-anchor="middle">2040</text>
<text class="tk" transform="translate(2491.01,1894.70) scale(1,0.978)" x="0" y="0" text-anchor="middle">2060</text>
<text class="tk" transform="translate(2865.50,1894.70) scale(1,0.978)" x="0" y="0" text-anchor="middle">2080</text>
<text class="tk" transform="translate(3240.00,1894.70) scale(1,0.978)" x="0" y="0" text-anchor="middle">2100</text>
<text class="tk" transform="translate(432.70,1852.20) scale(1,0.978)" x="0" y="0" text-anchor="end">0</text>
<text class="tk" transform="translate(432.70,1580.95) scale(1,0.978)" x="0" y="0" text-anchor="end">50</text>
<text class="tk" transform="translate(432.70,1309.70) scale(1,0.978)" x="0" y="0" text-anchor="end">100</text>
<text class="tk" transform="translate(432.70,1038.45) scale(1,0.978)" x="0" y="0" text-anchor="end">150</text>
<text class="tk" transform="translate(432.70,767.20) scale(1,0.978)" x="0" y="0" text-anchor="end">200</text>
<text class="tk" transform="translate(432.70,495.95) scale(1,0.978)" x="0" y="0" text-anchor="end">250</text>
<text class="tk" transform="translate(432.70,224.70) scale(1,0.978)" x="0" y="0" text-anchor="end">300</text>
<text x="1846.00" y="190.00" text-anchor="middle" style="font-size:70px">Gulbene.Gada</text>
<text class="tk" x="1845.00" y="1968.00" text-anchor="middle">Gads</text>
<g transform="translate(306.50,1586.00) rotate(-90)"><text class="tk" x="0" y="0">Saules radiācija uz horizontālas virsmas,</text><text class="tk" transform="translate(955,0) skewX(-16) scale(1.04,1.05)" x="0" y="0">W</text><line x1="1022.5" y1="14" x2="1043.5" y2="-44" stroke="#000" stroke-width="2.6" stroke-linecap="round"/><text class="tk" transform="translate(1049.5,0) scale(1.2,1)" x="0" y="0" style="font-style:italic">m</text><path transform="translate(1104.5,-21.8) scale(0.019922,-0.019922)" d="M911 0H90V147L276 316Q455 473 539 570Q623 667 659.5 770Q696 873 696 1006Q696 1136 637 1204Q578 1272 444 1272Q391 1272 335 1257.5Q279 1243 236 1219L201 1055H135V1313Q317 1356 444 1356Q664 1356 774.5 1264.5Q885 1173 885 1006Q885 894 841.5 794.5Q798 695 708 596.5Q618 498 410 321Q321 245 221 154H911Z" fill="#000"/></g>
<rect x="2615" y="245" width="590" height="417" fill="#fff" stroke="#000" stroke-width="4"/>
<line class="dk" stroke-linecap="square" x1="2664" y1="297.90" x2="2762" y2="297.90"/>
<text class="lg" x="2839" y="321.70">13%</text>
<line class="dk" stroke-linecap="square" x1="2664" y1="397.15" x2="2762" y2="397.15"/>
<text class="lg" x="2839" y="420.95">87%</text>
<line class="md" stroke-linecap="square" x1="2664" y1="496.40" x2="2762" y2="496.40"/>
<text class="lg" x="2839" y="520.20">Mediāna</text>
<line class="ob" stroke-linecap="square" x1="2664" y1="595.65" x2="2762" y2="595.65"/>
<text class="lg" x="2839" y="619.45">Novērojumi</text>
</svg>
</body></html>
